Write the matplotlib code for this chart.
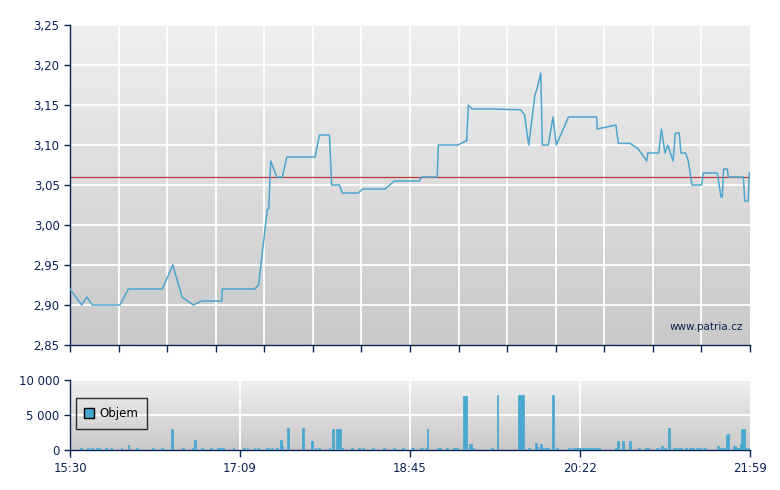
import numpy as np
import matplotlib
matplotlib.use("Agg")
import matplotlib.pyplot as plt
from matplotlib.lines import Line2D

# ---- data ----
# price trace: minutes after 15:30, price
price_min = [0.0, 6.7, 9.6, 12.8, 28.6, 33.4, 52.8, 58.8, 64.1, 70.5, 75.3, 86.8, 87.1,
             105.7, 107.9, 112.9, 113.7, 114.8, 118.3, 121.5, 124.0, 140.2, 142.7, 148.4,
             149.7, 154.1, 155.8, 164.9, 167.3, 180.2, 185.5, 199.8, 201.2, 210.1, 210.7,
             221.8, 226.4, 226.9, 227.9, 230.1, 242.2, 257.8, 259.3, 260.0, 262.4, 266.0,
             267.0, 269.3, 270.2, 273.6, 276.3, 278.2, 285.2, 301.3, 301.6, 312.3, 313.7,
             320.4, 325.1, 329.9, 330.5, 336.8, 338.3, 340.4, 341.9, 345.0, 346.3, 348.5,
             349.5, 352.2, 353.7, 355.8, 361.3, 362.3, 370.3, 372.4, 373.1, 373.9, 376.0,
             376.6, 385.2, 386.0, 388.0, 388.6]
price_val = [2.920, 2.900, 2.910, 2.900, 2.900, 2.920, 2.920, 2.950, 2.910, 2.900, 2.905, 2.905, 2.920,
             2.920, 2.925, 3.020, 3.020, 3.080, 3.060, 3.060, 3.085, 3.085, 3.1125, 3.1125,
             3.050, 3.050, 3.040, 3.040, 3.045, 3.045, 3.055, 3.055, 3.060, 3.060, 3.100,
             3.100, 3.105, 3.105, 3.150, 3.145, 3.145, 3.144, 3.140, 3.1375, 3.100, 3.163,
             3.169, 3.190, 3.100, 3.100, 3.135, 3.100, 3.135, 3.135, 3.120, 3.125, 3.102,
             3.102, 3.095, 3.080, 3.090, 3.090, 3.120, 3.090, 3.100, 3.080, 3.115, 3.115,
             3.090, 3.090, 3.080, 3.050, 3.050, 3.065, 3.065, 3.035, 3.035, 3.070, 3.070,
             3.060, 3.060, 3.030, 3.030, 3.065]
ref_price = 3.06

# volume: minute bin after 15:30, shares
vol_min = [6, 10, 12, 15, 16, 20, 23, 29, 33, 38, 47, 52, 58, 64, 70, 71, 75, 80, 84, 85, 86, 87, 93,
           99, 101, 105, 107, 112, 113, 115, 118, 120, 121, 124, 133, 138, 140, 142, 148, 150, 152,
           153, 154, 155, 161, 165, 167, 173, 179, 185, 190, 195, 196, 200, 201, 203, 204, 210, 211,
           215, 219, 220, 221, 225, 226, 228, 229, 230, 241, 244, 256, 257, 258, 259, 262, 266, 267,
           269, 270, 272, 273, 276, 278, 285, 287, 288, 289, 290, 291, 292, 293, 294, 295, 296, 297,
           298, 299, 300, 301, 302, 312, 313, 316, 320, 325, 329, 330, 335, 336, 338, 340, 342, 345,
           346, 348, 349, 352, 354, 355, 356, 358, 359, 360, 362, 363, 370, 372, 373, 374, 375, 376,
           379, 380, 381, 382, 383, 384, 385, 386, 388]
vol_val = [300, 300, 300, 300, 300, 300, 300, 300, 700, 300, 300, 300, 3000, 300, 300, 1450, 300, 300, 300, 300, 300, 300, 300,
           300, 300, 300, 300, 300, 300, 300, 300, 1450, 570, 3150, 3150, 1300, 300, 300, 300, 3000, 3000,
           3000, 3000, 300, 300, 300, 300, 300, 300, 300, 300, 300, 300, 300, 300, 300, 3000, 300, 300,
           300, 300, 300, 300, 7700, 7700, 850, 850, 300, 300, 7850, 7850, 7850, 7850, 7850, 300, 1000, 430,
           850, 300, 300, 300, 7850, 300, 300, 300, 300, 300, 300, 300, 300, 300, 300, 300, 300, 300,
           300, 300, 300, 300, 300, 300, 1300, 1300, 1300, 300, 300, 300, 300, 300, 570, 300, 3150, 300,
           300, 300, 300, 300, 300, 300, 300, 300, 300, 300, 300, 300, 570, 300, 300, 300, 2150, 2300,
           570, 570, 300, 300, 850, 3000, 3000, 300, 300]

x_end = 389.0
time_labels = ["15:30", "17:09", "18:45", "20:22", "21:59"]
price_ticks = [2.85, 2.90, 2.95, 3.00, 3.05, 3.10, 3.15, 3.20, 3.25]
vol_ticks = [0, 5000, 10000]
vol_tick_labels = ["0", "5 000", "10 000"]

# ---- style ----
navy = "#0c2352"
line_blue = "#4ea5cd"
bar_blue = "#47a7cf"
plt.rcParams["font.family"] = ["DejaVu Sans"]
plt.rcParams["font.size"] = 8

fig = plt.figure(figsize=(7.8, 4.9), dpi=100)
ax = fig.add_axes([70/780, 1-345/490, 680/780, 320/490])
axv = fig.add_axes([70/780, 1-450/490, 680/780, 70/490])

def gradient(a, top, bottom):
    g = np.linspace(0, 1, 256).reshape(-1, 1)
    c0 = np.array(matplotlib.colors.to_rgb(top))
    c1 = np.array(matplotlib.colors.to_rgb(bottom))
    img = c0[None, None, :] * (1 - g[:, :, None]) + c1[None, None, :] * g[:, :, None]
    a.imshow(img, extent=[0, 1, 0, 1], transform=a.transAxes, aspect="auto", zorder=0)

for a in (ax, axv):
    gradient(a, "#efefef", "#c9c9c9")
    for s in ("top", "right"):
        a.spines[s].set_visible(False)
    for s in ("left", "bottom"):
        a.spines[s].set_color(navy)
        a.spines[s].set_linewidth(1.0)
    a.tick_params(colors=navy, labelcolor=navy, length=4, width=1, direction="out", labelsize=8.5)

# price panel
ax.set_xlim(0, x_end)
ax.set_ylim(2.85, 3.25)
ax.set_yticks(price_ticks)
ax.set_yticklabels([("%.2f" % v).replace(".", ",") for v in price_ticks])
xgrid = np.linspace(0, x_end, 15)
ax.set_xticks(xgrid)
ax.set_xticklabels([])
ax.tick_params(axis="x", length=5)
for v in price_ticks[1:]:
    ax.axhline(v, color="white", lw=1.3, zorder=1)
for v in xgrid[1:-1]:
    ax.axvline(v, color="white", lw=1.3, zorder=1)
ax.axhline(ref_price, color="#b83a3a", lw=0.9, zorder=2)
ax.plot(price_min, price_val, color=line_blue, lw=1.1, zorder=3)
ax.text(0.99, 0.055, "www.patria.cz", transform=ax.transAxes, ha="right", va="center",
        color=navy, fontsize=7.5, zorder=4)

# volume panel
axv.set_xlim(0, x_end)
axv.set_ylim(0, 10000)
axv.set_yticks(vol_ticks)
axv.set_yticklabels(vol_tick_labels)
xt = np.linspace(0, x_end, 5)
axv.set_xticks(xt)
axv.set_xticklabels(time_labels)
axv.tick_params(axis="x", length=5)
axv.axhline(5000, color="white", lw=1.3, zorder=1)
axv.axhline(10000, color="white", lw=1.3, zorder=1, clip_on=False)
for v in xt[1:-1]:
    axv.axvline(v, color="white", lw=1.3, zorder=1)
axv.bar(vol_min, vol_val, width=1.0, align="edge", color=bar_blue,
        edgecolor=bar_blue, linewidth=0.5, zorder=3)

leg_handle = Line2D([], [], marker="s", linestyle="none", markersize=7,
                    markerfacecolor=bar_blue, markeredgecolor="black", markeredgewidth=1)
leg = axv.legend([leg_handle], ["Objem"], loc="lower left", bbox_to_anchor=(0.0, 0.22),
                 frameon=True, fancybox=False, fontsize=8.5, handlelength=0.8,
                 handletextpad=0.4, borderpad=0.75)
leg.get_frame().set_edgecolor("black")
leg.get_frame().set_facecolor("none")
leg.get_frame().set_linewidth(1.0)

fig.savefig("out.png", dpi=100)
